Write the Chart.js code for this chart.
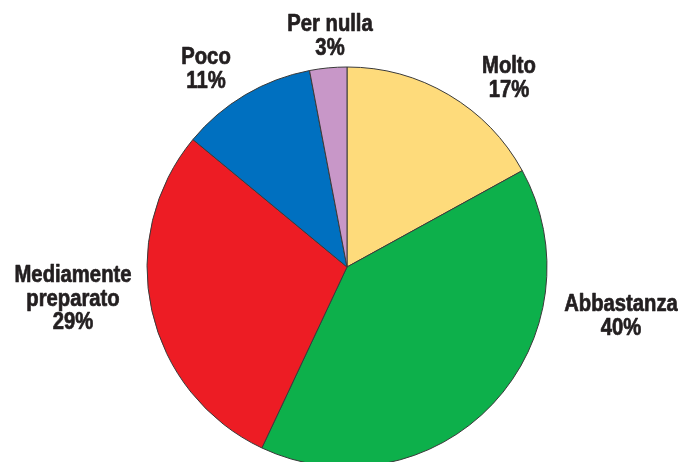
<!DOCTYPE html>
<html lang="it">
<head>
<meta charset="utf-8">
<title>Preparazione</title>
<script src="https://cdn.jsdelivr.net/npm/chart.js@4.4.1/dist/chart.umd.min.js"></script>
<style>
  html, body { margin: 0; padding: 0; background: #ffffff; overflow: hidden; }
  #wrap { position: relative; width: 678px; height: 462px; }
</style>
</head>
<body>
<div id="wrap"><canvas id="chart-pie" width="678" height="462"></canvas></div>
<script>
  'use strict';

  // ===========================================================================
  // DATA
  // ===========================================================================

  const categories = ['Molto', 'Abbastanza', 'Mediamente preparato', 'Poco', 'Per nulla'];
  const values = [17, 40, 29, 11, 3];
  const labelLines = [
    ['Molto', '17%'],
    ['Abbastanza', '40%'],
    ['Mediamente', 'preparato', '29%'],
    ['Poco', '11%'],
    ['Per nulla', '3%'],
  ];
  const colors = ['#FEDB7B', '#0DB04B', '#ED1C24', '#0070C0', '#C897C8'];

  // Text anchors (centre of first line) for each slice label.
  const labelAnchors = [
    { x: 509, y: 67 },
    { x: 621, y: 305 },
    { x: 73, y: 276 },
    { x: 206, y: 58 },
    { x: 330, y: 25 },
  ];

  // ===========================================================================
  // LABEL PLUGIN
  // ===========================================================================

  // Bold sans squeezed horizontally to look like the condensed face of the original.
  const SQUEEZE = 0.88;

  const sliceLabels = {
    id: 'sliceLabels',
    afterDatasetsDraw(chart) {
      const ctx = chart.ctx;
      ctx.save();
      ctx.font = 'bold 23px "Liberation Sans", Arial, sans-serif';
      ctx.fillStyle = '#231F20';
      ctx.strokeStyle = '#231F20';
      ctx.lineWidth = 0.7;
      ctx.lineJoin = 'round';
      ctx.textAlign = 'center';
      ctx.textBaseline = 'middle';
      labelLines.forEach((lines, i) => {
        const a = labelAnchors[i];
        lines.forEach((line, j) => {
          ctx.save();
          ctx.translate(a.x, a.y + j * 23.5);
          ctx.scale(SQUEEZE, 1);
          ctx.fillText(line, 0, 0);
          ctx.strokeText(line, 0, 0);
          ctx.restore();
        });
      });
      ctx.restore();
    },
  };

  // ===========================================================================
  // CHART
  // ===========================================================================

  new Chart(document.getElementById('chart-pie'), {
    type: 'pie',
    data: {
      labels: categories,
      datasets: [{
        data: values,
        backgroundColor: colors,
        borderColor: '#3a3a3a',
        borderWidth: 1,
        radius: 200,
        clip: false,
      }],
    },
    options: {
      responsive: false,
      animation: false,
      layout: {
        padding: { left: 16, right: 0, top: 72, bottom: 0 },
      },
      plugins: {
        legend: { display: false },
        tooltip: { enabled: false },
      },
    },
    plugins: [sliceLabels],
  });
</script>
</body>
</html>
